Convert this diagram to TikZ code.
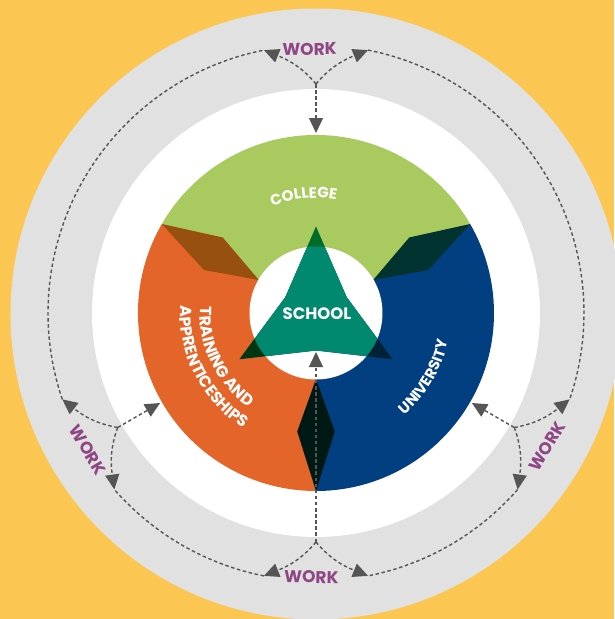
\documentclass[tikz,border=0pt]{standalone}
\usepackage{fontspec}
\setmainfont{Poppins}
\usetikzlibrary{arrows.meta,decorations.text}
\definecolor{bgyellow}{HTML}{FCC653}
\definecolor{ringgray}{HTML}{E1E1E1}
\definecolor{collegegreen}{HTML}{A9CA5E}
\definecolor{trainorange}{HTML}{E46529}
\definecolor{uniblue}{HTML}{013F80}
\definecolor{schoolteal}{HTML}{00896E}
\definecolor{ovbrown}{HTML}{97500F}
\definecolor{ovteal}{HTML}{00322F}
\definecolor{ovdark}{HTML}{001915}
\definecolor{tipgreen}{HTML}{006C29}
\definecolor{tiporange}{HTML}{003612}
\definecolor{tipblue}{HTML}{002237}
\definecolor{workpurple}{HTML}{8E4684}
\definecolor{arrowgray}{HTML}{555555}
\def\wheelfont{\color{white}\bfseries\fontsize{15}{18}\selectfont}
\def\trainfont{\color{white}\bfseries\fontsize{16}{19}\selectfont}

\begin{document}
\begin{tikzpicture}[x=1pt,y=1pt,
	workline/.style={draw=arrowgray, line width=1.4pt, dash pattern=on 3.5pt off 2.6pt},
	workarrow/.style={workline, -{Triangle[length=15pt,width=14pt]}},
	worklabel/.style={text=workpurple, font=\bfseries\fontsize{17}{20}\selectfont, inner sep=0pt}]
	\useasboundingbox (-316,-306) rectangle (298,313);
	\fill[bgyellow] (-316,-306) rectangle (298,313);
	
	% rings
	\fill[ringgray] (0,-1) circle (305.5);
	\fill[white] (0,0) circle (224);
	
	% the three sectors and their overlaps
	\fill[collegegreen] (0,0) -- (30:178) arc (30:150:178) -- cycle;
	\fill[trainorange] (0,0) -- (150:178) arc (150:270:178) -- cycle;
	\fill[uniblue] (0,0) -- (270:178) arc (270:390:178) -- cycle;
	\foreach \a/\c in {150/ovbrown,30/ovteal,270/ovdark}
		\fill[\c] (\a:66) -- (\a+9:120) -- (\a:178) -- (\a-9:120) -- cycle;
	\fill[white] (0,0) circle (66.5);
	
	% school triangle
	\begin{scope}
		\clip[shift={(0,-2)}] (90:88.5) -- (150:35.5) -- (210:88.5) -- (270:35.5) -- (330:88.5) -- (30:35.5) -- cycle;
		\fill[tipgreen] (0,0) -- (30:110) arc (30:150:110) -- cycle;
		\fill[tiporange] (0,0) -- (150:110) arc (150:270:110) -- cycle;
		\fill[tipblue] (0,0) -- (270:110) arc (270:390:110) -- cycle;
		\fill[schoolteal] (0,0) circle (66.5);
	\end{scope}
	\node[text=white, font=\bfseries\fontsize{16.5}{19}\selectfont, inner sep=0pt] (school) at (1,-1) {SCHOOL};
	
	% sector labels
	\path[decorate, decoration={text along path, text align=center, text={|\wheelfont|COLLEGE}}] (126:115) arc (126:66:115);
	\path[decorate, decoration={text along path, text align=left, text={|\trainfont|TRAINING AND}}] (177:116) arc (177:250:116);
	\path[decorate, decoration={text along path, text align=left, text={|\trainfont|APPRENTICESHIPS}}] (177:136) arc (177:255:136);
	\path[decorate, decoration={text along path, text align=center, text={|\wheelfont|UNIVERSITY}}] (-70:135) arc (-70:9:135);
	
	% work labels
	\node[worklabel, rotate=1] (worktop) at (91.4:264) {WORK};
	\node[worklabel, rotate=-1] (workbot) at (269:264) {WORK};
	\node[worklabel, rotate=-59] (workleft) at (211:266) {WORK};
	\node[worklabel, rotate=60] (workright) at (330:267) {WORK};
	
	% work connectors
	\foreach \g/\a in {top/90,right/330,bot/270,left/210}{
		\coordinate (j\g) at (\a:229);
		\coordinate (p\g) at (\a+11.2:268);
		\coordinate (m\g) at (\a-11.2:268);
		\coordinate (e\g) at (\a:180);
	}
	\coordinate (ebot) at (270:39);
	\foreach \g/\a in {top/90,right/330,bot/270,left/210}{
		\pgfmathsetmacro\po{\a+40}
		\pgfmathsetmacro\pi{\a-112}
		\pgfmathsetmacro\mo{\a-40}
		\pgfmathsetmacro\mi{\a+112}
		\draw[workarrow] (j\g) to[out=\po,in=\pi] (p\g);
		\draw[workarrow] (j\g) to[out=\mo,in=\mi] (m\g);
		\draw[workarrow] (j\g) -- (e\g);
	}
	\draw[workline] (mtop) arc[start angle=78.8, end angle=-18.8, radius=268];
	\draw[workline] (mright) arc[start angle=318.8, end angle=281.2, radius=268];
	\draw[workline] (mbot) arc[start angle=258.8, end angle=221.2, radius=268];
	\draw[workline] (mleft) arc[start angle=198.8, end angle=101.2, radius=268];
\end{tikzpicture}
\end{document}
